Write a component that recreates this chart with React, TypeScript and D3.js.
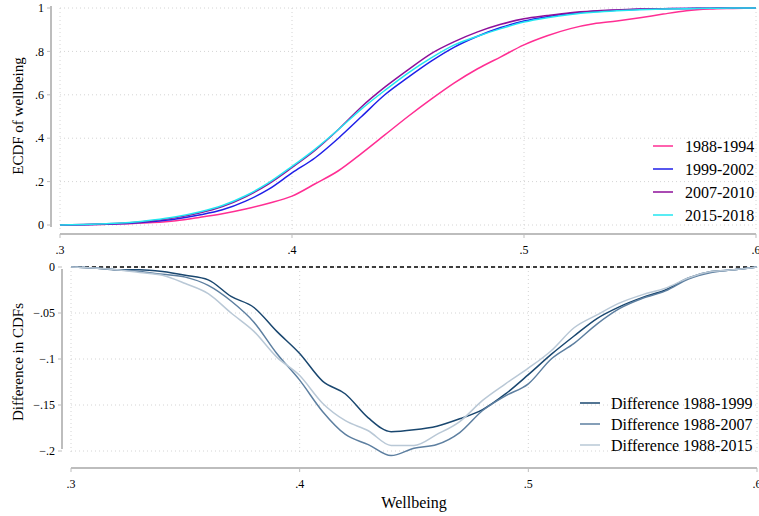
import React from 'react'
import * as d3 from 'd3'

// wellbeing grid (0.01 steps)
const wellbeing = d3.range(31).map((i) => +(0.3 + i * 0.01).toFixed(2))

const ecdf1988 = [0, 0.001, 0.003, 0.006, 0.011, 0.02, 0.035, 0.052, 0.074, 0.1, 0.133, 0.19, 0.25, 0.33, 0.415, 0.5, 0.58, 0.655, 0.72, 0.775, 0.83, 0.872, 0.905, 0.927, 0.94, 0.955, 0.972, 0.987, 0.995, 0.998, 1]
const ecdf1999 = [0, 0.001, 0.004, 0.008, 0.016, 0.028, 0.046, 0.07, 0.11, 0.165, 0.24, 0.31, 0.4, 0.5, 0.6, 0.68, 0.755, 0.82, 0.87, 0.91, 0.94, 0.96, 0.975, 0.985, 0.99, 0.994, 0.997, 0.998, 0.999, 1, 1]
const ecdf2007 = [0, 0.002, 0.005, 0.01, 0.02, 0.034, 0.055, 0.085, 0.13, 0.19, 0.265, 0.345, 0.44, 0.545, 0.635, 0.715, 0.79, 0.845, 0.89, 0.925, 0.95, 0.965, 0.978, 0.986, 0.991, 0.995, 0.997, 0.998, 0.999, 1, 1]
const ecdf2015 = [0, 0.002, 0.006, 0.012, 0.023, 0.038, 0.06, 0.09, 0.135, 0.195, 0.27, 0.35, 0.44, 0.535, 0.62, 0.7, 0.77, 0.83, 0.87, 0.905, 0.935, 0.955, 0.97, 0.98, 0.987, 0.992, 0.995, 0.997, 0.999, 1, 1]

const diff1999 = [0, -0.001, -0.003, -0.003, -0.005, -0.009, -0.014, -0.032, -0.044, -0.07, -0.094, -0.124, -0.138, -0.164, -0.179, -0.177, -0.173, -0.165, -0.155, -0.138, -0.117, -0.095, -0.075, -0.056, -0.043, -0.033, -0.025, -0.012, -0.005, -0.003, 0]
const diff2007 = [0, -0.001, -0.003, -0.005, -0.008, -0.011, -0.02, -0.037, -0.06, -0.094, -0.123, -0.157, -0.182, -0.193, -0.205, -0.197, -0.193, -0.18, -0.156, -0.14, -0.127, -0.1, -0.083, -0.062, -0.045, -0.034, -0.026, -0.013, -0.006, -0.003, 0]
const diff2015 = [0, -0.001, -0.003, -0.006, -0.009, -0.018, -0.029, -0.05, -0.07, -0.098, -0.118, -0.148, -0.167, -0.178, -0.194, -0.194, -0.182, -0.168, -0.145, -0.127, -0.11, -0.091, -0.066, -0.052, -0.039, -0.03, -0.023, -0.012, -0.005, -0.003, 0]

const topSeries = [
  { label: '1988-1994', values: ecdf1988, color: '#ff2e93' },
  { label: '1999-2002', values: ecdf1999, color: '#1f1fe8' },
  { label: '2007-2010', values: ecdf2007, color: '#8e0f9a' },
  { label: '2015-2018', values: ecdf2015, color: '#22e6f0' },
]
const bottomSeries = [
  { label: 'Difference 1988-1999', values: diff1999, color: '#1a476f' },
  { label: 'Difference 1988-2007', values: diff2007, color: '#5d7fa0' },
  { label: 'Difference 1988-2015', values: diff2015, color: '#b9c8d6' },
]

const xTicks = [0.3, 0.4, 0.5, 0.6]
const topYTicks = [0, 0.2, 0.4, 0.6, 0.8, 1]
const bottomYTicks = [0, -0.05, -0.1, -0.15, -0.2]

const fmt = (v: number) => {
  if (v === 0) return '0'
  if (v === 1) return '1'
  return d3.format('')(v).replace('0.', '.')
}

const font = "'Liberation Serif', 'Times New Roman', serif"
const axisColor = '#bdbdbd'
const gridColor = '#d4d4d4'

const Panel = ({ x, y, series, yTicks, axisX, axisY, legend, title, titleY, dashedZero }: any) => {
  const line = d3
    .line<number>()
    .x((_, i) => x(wellbeing[i]))
    .y((d) => y(d))
    .curve(d3.curveMonotoneX)
  const [x0, x1] = x.range()
  const [yb, yt] = y.range()
  const yLo = Math.max(yb, yt)
  const yHi = Math.min(yb, yt)
  return (
    <g>
      {yTicks.map((t: number) => (
        <line key={'gy' + t} x1={x0} x2={x1} y1={y(t)} y2={y(t)} stroke={gridColor} strokeDasharray="1,3" />
      ))}
      {xTicks.map((t) => (
        <line key={'gx' + t} x1={x(t)} x2={x(t)} y1={yHi} y2={yLo + 4} stroke={gridColor} strokeDasharray="1,3" />
      ))}
      <line x1={axisX} x2={axisX} y1={y(yTicks[yTicks.length - 1]) - 2} y2={y(yTicks[0]) + 2} stroke={axisColor} strokeWidth={2} />
      {yTicks.map((t: number) => (
        <g key={'ty' + t}>
          <line x1={axisX - 4} x2={axisX} y1={y(t)} y2={y(t)} stroke={axisColor} strokeWidth={1} />
          <text x={axisX - 7} y={y(t)} dy="0.35em" textAnchor="end" fontSize={12} fontFamily={font}>
            {fmt(t)}
          </text>
        </g>
      ))}
      <line x1={x0} x2={x1} y1={axisY} y2={axisY} stroke={axisColor} strokeWidth={2} />
      {xTicks.map((t) => (
        <g key={'tx' + t}>
          <line x1={x(t)} x2={x(t)} y1={axisY} y2={axisY + 4} stroke={axisColor} strokeWidth={1} />
          <text x={x(t)} y={axisY + 16} dy="0.35em" textAnchor="middle" fontSize={12} fontFamily={font}>
            {fmt(t)}
          </text>
        </g>
      ))}
      <text transform={`translate(18,${titleY}) rotate(-90)`} textAnchor="middle" dy="0.35em" fontSize={15} fontFamily={font}>
        {title}
      </text>
      {dashedZero && (
        <line x1={x0} x2={x1} y1={y(0)} y2={y(0)} stroke="#000" strokeWidth={1.5} strokeDasharray="4,3" />
      )}
      {series.map((s: any) => (
        <path key={s.label} d={line(s.values) || ''} fill="none" stroke={s.color} strokeWidth={1.5} />
      ))}
      {series.map((s: any, i: number) => (
        <g key={'lg' + s.label} transform={`translate(${legend.x},${legend.y + i * legend.step})`}>
          <line x1={0} x2={20} y1={0} y2={0} stroke={s.color} strokeWidth={1.5} />
          <text x={legend.textDx} y={0} dy="0.35em" fontSize={16} fontFamily={font}>
            {s.label}
          </text>
        </g>
      ))}
    </g>
  )
}

const App = () => {
  const xTop = d3.scaleLinear().domain([0.3, 0.6]).range([60, 756])
  const yTop = d3.scaleLinear().domain([0, 1]).range([225, 8])
  const xBot = d3.scaleLinear().domain([0.3, 0.6]).range([71, 757])
  const yBot = d3.scaleLinear().domain([-0.2, 0]).range([451, 267])

  return (
    <svg width={759} height={516} style={{ position: 'absolute', left: 0, top: 0, background: '#fff' }}>
      <rect width={759} height={516} fill="#fff" />
      <Panel
        x={xTop}
        y={yTop}
        series={topSeries}
        yTicks={topYTicks}
        axisX={51}
        axisY={234}
        title="ECDF of wellbeing"
        titleY={116}
        legend={{ x: 653, y: 146, step: 23, textDx: 32 }}
      />
      <Panel
        x={xBot}
        y={yBot}
        series={bottomSeries}
        yTicks={bottomYTicks}
        axisX={62}
        axisY={468}
        title="Difference in CDFs"
        titleY={362}
        dashedZero
        legend={{ x: 580, y: 403, step: 21, textDx: 31 }}
      />
      <text x={414} y={502} dy="0.35em" textAnchor="middle" fontSize={16} fontFamily={font}>
        Wellbeing
      </text>
    </svg>
  )
}

export default App
